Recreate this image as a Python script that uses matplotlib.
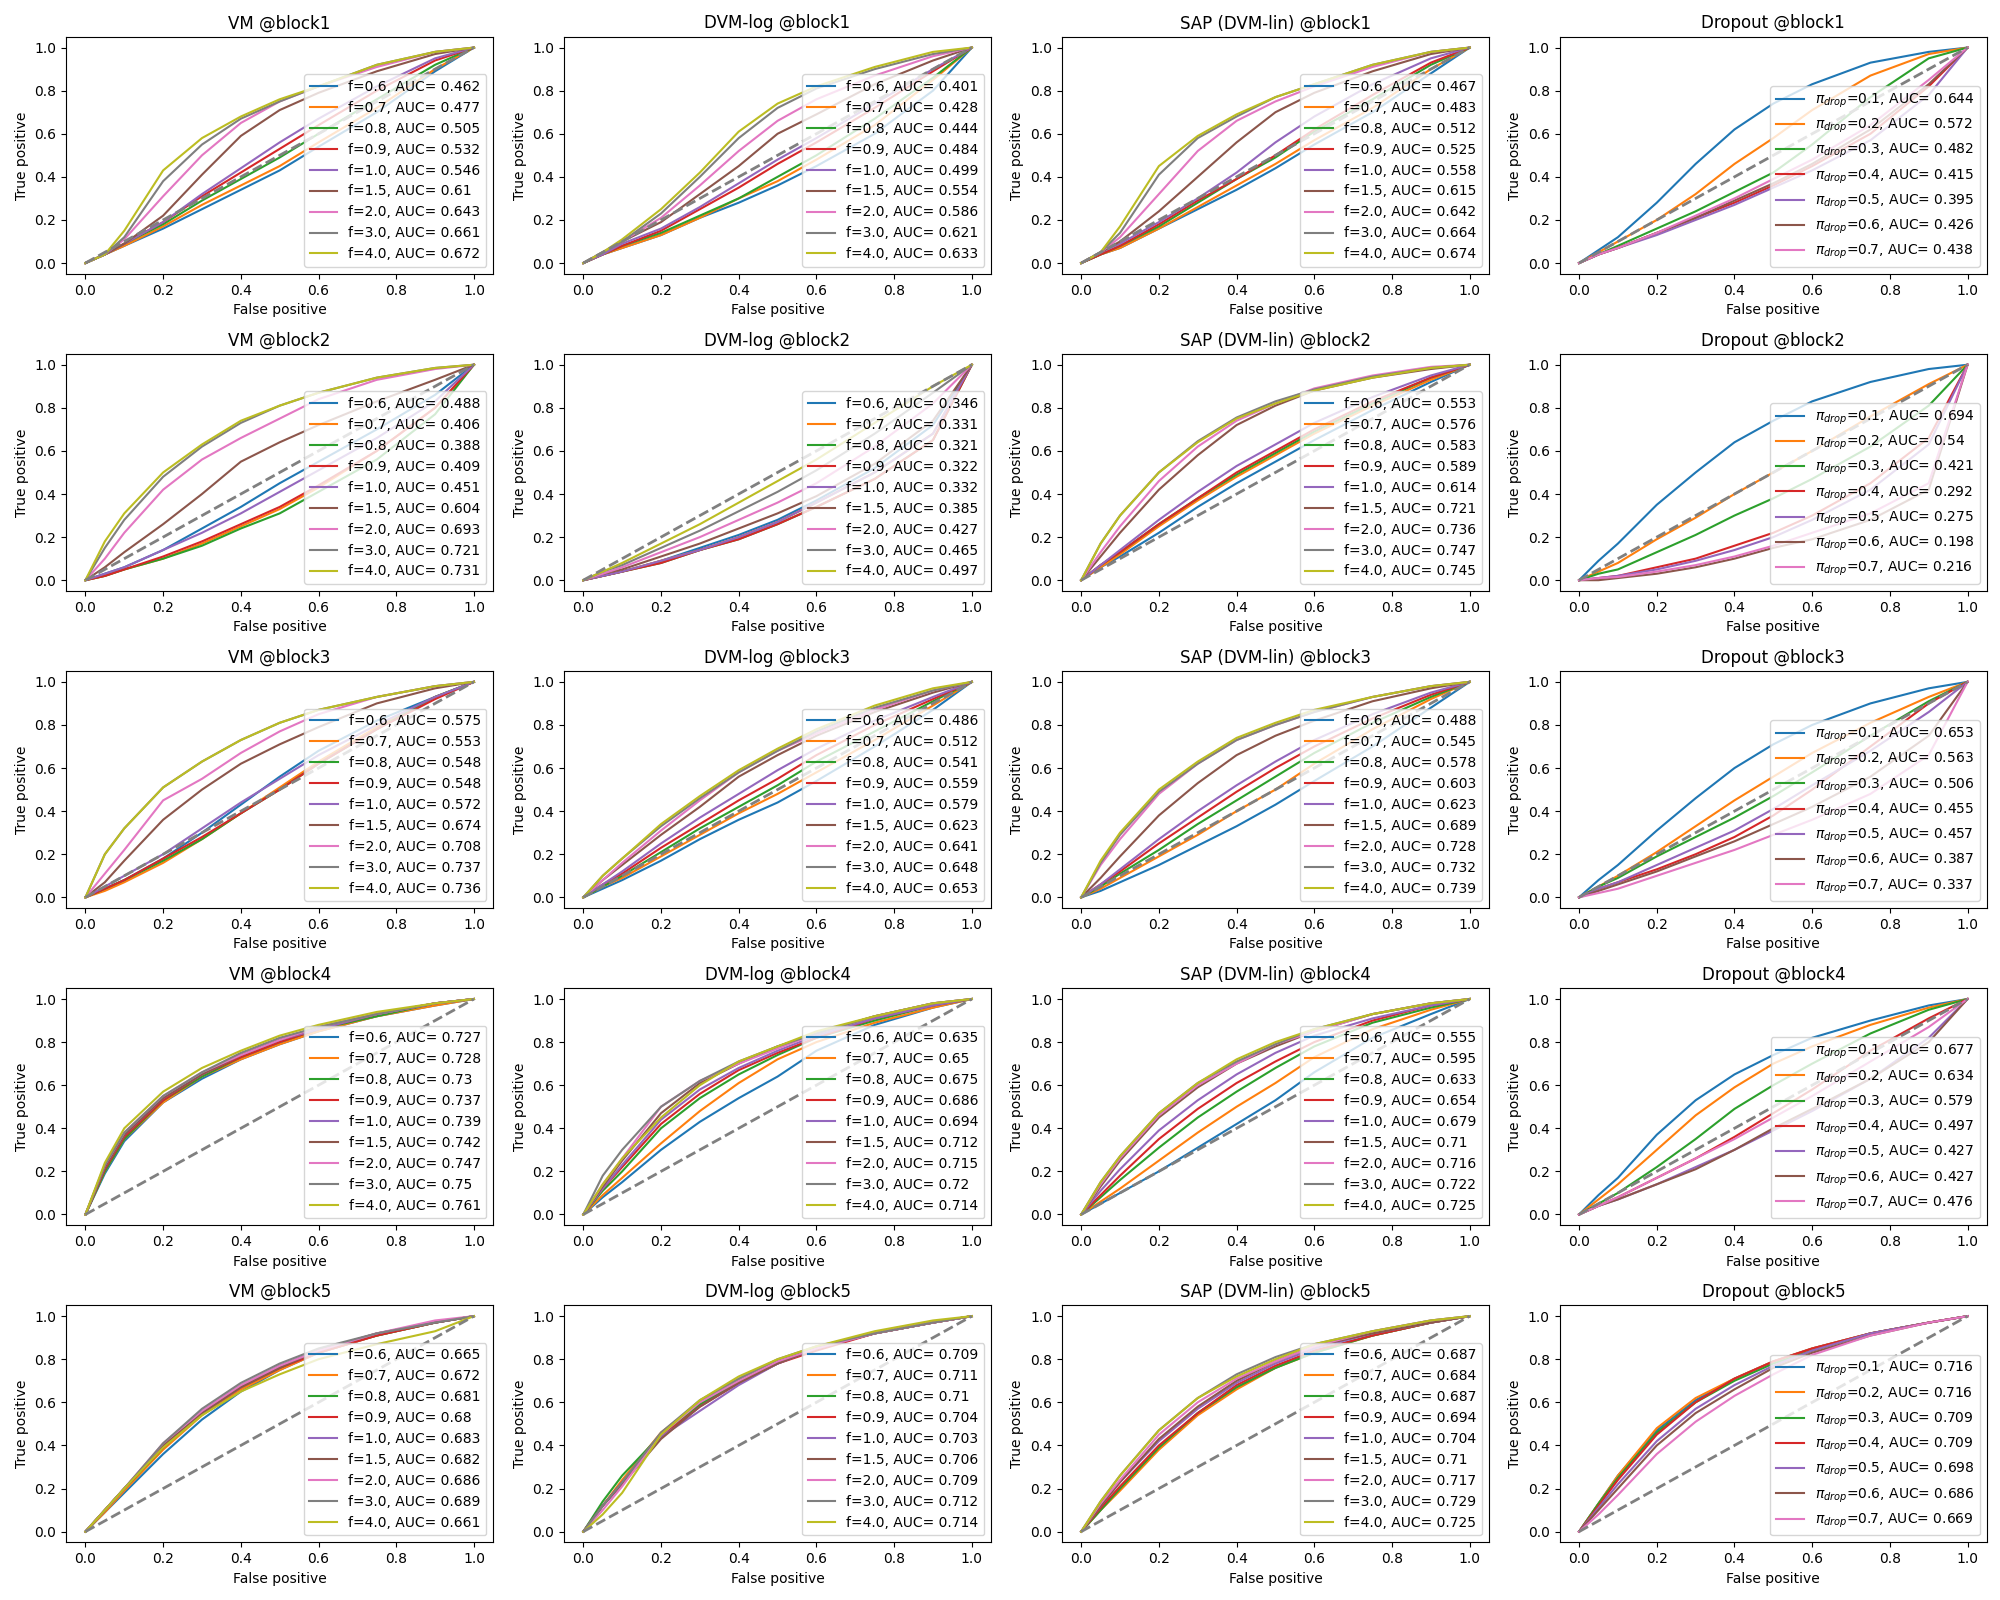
import matplotlib
matplotlib.use('Agg')
import matplotlib.pyplot as plt

# ROC curves, TPR at these FPR points
fpr_grid = [0.0, 0.05, 0.1, 0.2, 0.3, 0.4, 0.5, 0.6, 0.75, 0.9, 1.0]

methods = ['VM', 'DVM-log', 'SAP (DVM-lin)', 'Dropout']
blocks = ['block1', 'block2', 'block3', 'block4', 'block5']
f_values = ['0.6', '0.7', '0.8', '0.9', '1.0', '1.5', '2.0', '3.0', '4.0']
drop_values = ['0.1', '0.2', '0.3', '0.4', '0.5', '0.6', '0.7']

auc_vm = [
    [0.462, 0.477, 0.505, 0.532, 0.546, 0.61, 0.643, 0.661, 0.672],
    [0.488, 0.406, 0.388, 0.409, 0.451, 0.604, 0.693, 0.721, 0.731],
    [0.575, 0.553, 0.548, 0.548, 0.572, 0.674, 0.708, 0.737, 0.736],
    [0.727, 0.728, 0.73, 0.737, 0.739, 0.742, 0.747, 0.75, 0.761],
    [0.665, 0.672, 0.681, 0.68, 0.683, 0.682, 0.686, 0.689, 0.661],
]
auc_dvm = [
    [0.401, 0.428, 0.444, 0.484, 0.499, 0.554, 0.586, 0.621, 0.633],
    [0.346, 0.331, 0.321, 0.322, 0.332, 0.385, 0.427, 0.465, 0.497],
    [0.486, 0.512, 0.541, 0.559, 0.579, 0.623, 0.641, 0.648, 0.653],
    [0.635, 0.65, 0.675, 0.686, 0.694, 0.712, 0.715, 0.72, 0.714],
    [0.709, 0.711, 0.71, 0.704, 0.703, 0.706, 0.709, 0.712, 0.714],
]
auc_sap = [
    [0.467, 0.483, 0.512, 0.525, 0.558, 0.615, 0.642, 0.664, 0.674],
    [0.553, 0.576, 0.583, 0.589, 0.614, 0.721, 0.736, 0.747, 0.745],
    [0.488, 0.545, 0.578, 0.603, 0.623, 0.689, 0.728, 0.732, 0.739],
    [0.555, 0.595, 0.633, 0.654, 0.679, 0.71, 0.716, 0.722, 0.725],
    [0.687, 0.684, 0.687, 0.694, 0.704, 0.71, 0.717, 0.729, 0.725],
]
auc_drop = [
    [0.644, 0.572, 0.482, 0.415, 0.395, 0.426, 0.438],
    [0.694, 0.54, 0.421, 0.292, 0.275, 0.198, 0.216],
    [0.653, 0.563, 0.506, 0.455, 0.457, 0.387, 0.337],
    [0.677, 0.634, 0.579, 0.497, 0.427, 0.427, 0.476],
    [0.716, 0.716, 0.709, 0.709, 0.698, 0.686, 0.669],
]

# TPR values (between the fixed end points 0 and 1)
tpr_vm_b1 = [
    [0.04, 0.08, 0.16, 0.25, 0.34, 0.43, 0.54, 0.70, 0.89],
    [0.04, 0.08, 0.17, 0.27, 0.36, 0.45, 0.56, 0.72, 0.90],
    [0.04, 0.09, 0.18, 0.29, 0.39, 0.49, 0.60, 0.76, 0.92],
    [0.04, 0.09, 0.19, 0.31, 0.42, 0.53, 0.64, 0.80, 0.94],
    [0.04, 0.09, 0.19, 0.32, 0.44, 0.56, 0.67, 0.82, 0.95],
    [0.04, 0.09, 0.22, 0.41, 0.59, 0.71, 0.79, 0.89, 0.97],
    [0.04, 0.11, 0.31, 0.50, 0.65, 0.75, 0.82, 0.91, 0.98],
    [0.04, 0.12, 0.38, 0.55, 0.67, 0.75, 0.82, 0.92, 0.98],
    [0.04, 0.15, 0.43, 0.58, 0.68, 0.76, 0.82, 0.92, 0.98],
]
tpr_dvm_b1 = [
    [0.04, 0.07, 0.13, 0.21, 0.28, 0.36, 0.45, 0.60, 0.80],
    [0.04, 0.07, 0.13, 0.21, 0.30, 0.38, 0.48, 0.64, 0.85],
    [0.04, 0.08, 0.14, 0.22, 0.30, 0.40, 0.50, 0.67, 0.86],
    [0.04, 0.08, 0.15, 0.25, 0.35, 0.46, 0.56, 0.72, 0.89],
    [0.04, 0.09, 0.16, 0.26, 0.37, 0.48, 0.58, 0.74, 0.90],
    [0.05, 0.10, 0.19, 0.32, 0.45, 0.60, 0.69, 0.83, 0.94],
    [0.05, 0.10, 0.21, 0.36, 0.52, 0.66, 0.76, 0.87, 0.96],
    [0.05, 0.10, 0.23, 0.40, 0.58, 0.72, 0.81, 0.90, 0.97],
    [0.05, 0.11, 0.25, 0.42, 0.61, 0.74, 0.82, 0.91, 0.98],
]
tpr_sap_b1 = [
    [0.04, 0.07, 0.16, 0.25, 0.34, 0.44, 0.55, 0.70, 0.88],
    [0.04, 0.07, 0.16, 0.26, 0.36, 0.46, 0.57, 0.72, 0.90],
    [0.04, 0.08, 0.17, 0.28, 0.39, 0.49, 0.61, 0.76, 0.92],
    [0.04, 0.08, 0.18, 0.29, 0.39, 0.50, 0.62, 0.78, 0.93],
    [0.05, 0.09, 0.19, 0.30, 0.42, 0.56, 0.68, 0.83, 0.95],
    [0.05, 0.10, 0.24, 0.40, 0.56, 0.70, 0.79, 0.89, 0.97],
    [0.05, 0.12, 0.32, 0.52, 0.66, 0.75, 0.82, 0.91, 0.98],
    [0.05, 0.14, 0.41, 0.58, 0.68, 0.77, 0.83, 0.92, 0.98],
    [0.05, 0.17, 0.45, 0.59, 0.69, 0.77, 0.83, 0.92, 0.98],
]
tpr_drop_b1 = [
    [0.06, 0.12, 0.28, 0.46, 0.62, 0.74, 0.83, 0.93, 0.98],
    [0.05, 0.10, 0.20, 0.32, 0.46, 0.58, 0.71, 0.87, 0.97],
    [0.04, 0.08, 0.16, 0.24, 0.33, 0.42, 0.55, 0.77, 0.95],
    [0.04, 0.07, 0.14, 0.21, 0.28, 0.36, 0.45, 0.60, 0.82],
    [0.04, 0.07, 0.13, 0.20, 0.27, 0.35, 0.43, 0.57, 0.78],
    [0.04, 0.07, 0.14, 0.21, 0.29, 0.37, 0.46, 0.62, 0.83],
    [0.04, 0.07, 0.14, 0.22, 0.30, 0.39, 0.48, 0.64, 0.85],
]

tpr_vm_b2 = [
    [0.03, 0.06, 0.14, 0.24, 0.34, 0.45, 0.55, 0.70, 0.86],
    [0.02, 0.05, 0.10, 0.17, 0.25, 0.33, 0.43, 0.60, 0.80],
    [0.02, 0.05, 0.10, 0.16, 0.24, 0.31, 0.41, 0.56, 0.77],
    [0.02, 0.05, 0.11, 0.18, 0.26, 0.34, 0.44, 0.60, 0.80],
    [0.03, 0.06, 0.14, 0.22, 0.31, 0.41, 0.51, 0.66, 0.83],
    [0.06, 0.13, 0.26, 0.40, 0.55, 0.64, 0.72, 0.83, 0.93],
    [0.10, 0.22, 0.42, 0.56, 0.66, 0.75, 0.84, 0.93, 0.98],
    [0.15, 0.28, 0.48, 0.62, 0.73, 0.81, 0.87, 0.94, 0.985],
    [0.18, 0.31, 0.50, 0.63, 0.74, 0.81, 0.87, 0.94, 0.985],
]
tpr_dvm_b2 = [
    [0.02, 0.04, 0.09, 0.15, 0.21, 0.28, 0.37, 0.52, 0.72],
    [0.02, 0.04, 0.09, 0.14, 0.20, 0.27, 0.36, 0.50, 0.68],
    [0.02, 0.04, 0.08, 0.14, 0.19, 0.26, 0.34, 0.47, 0.65],
    [0.02, 0.04, 0.08, 0.14, 0.19, 0.26, 0.34, 0.47, 0.65],
    [0.02, 0.04, 0.09, 0.14, 0.20, 0.27, 0.36, 0.50, 0.68],
    [0.03, 0.05, 0.11, 0.17, 0.24, 0.31, 0.39, 0.54, 0.74],
    [0.03, 0.06, 0.13, 0.20, 0.28, 0.36, 0.45, 0.62, 0.82],
    [0.04, 0.07, 0.15, 0.23, 0.32, 0.41, 0.51, 0.68, 0.87],
    [0.04, 0.08, 0.17, 0.26, 0.36, 0.46, 0.56, 0.73, 0.90],
]
tpr_sap_b2 = [
    [0.06, 0.11, 0.22, 0.34, 0.45, 0.55, 0.65, 0.79, 0.92],
    [0.06, 0.12, 0.25, 0.37, 0.48, 0.58, 0.68, 0.81, 0.93],
    [0.07, 0.13, 0.26, 0.38, 0.49, 0.59, 0.69, 0.82, 0.94],
    [0.07, 0.13, 0.26, 0.38, 0.50, 0.60, 0.70, 0.83, 0.94],
    [0.07, 0.14, 0.28, 0.41, 0.53, 0.63, 0.73, 0.85, 0.95],
    [0.11, 0.22, 0.42, 0.58, 0.72, 0.81, 0.88, 0.94, 0.98],
    [0.13, 0.25, 0.46, 0.62, 0.74, 0.82, 0.89, 0.95, 0.99],
    [0.17, 0.30, 0.50, 0.645, 0.755, 0.83, 0.885, 0.945, 0.985],
    [0.17, 0.30, 0.50, 0.64, 0.75, 0.82, 0.88, 0.94, 0.985],
]
tpr_drop_b2 = [
    [0.09, 0.17, 0.35, 0.50, 0.64, 0.74, 0.83, 0.92, 0.98],
    [0.04, 0.08, 0.19, 0.29, 0.40, 0.50, 0.60, 0.76, 0.91],
    [0.03, 0.05, 0.13, 0.21, 0.30, 0.38, 0.47, 0.62, 0.81],
    [0.01, 0.02, 0.06, 0.10, 0.16, 0.22, 0.30, 0.45, 0.66],
    [0.01, 0.02, 0.05, 0.09, 0.14, 0.20, 0.28, 0.42, 0.63],
    [0.00, 0.01, 0.03, 0.06, 0.10, 0.15, 0.19, 0.28, 0.42],
    [0.01, 0.015, 0.04, 0.07, 0.11, 0.16, 0.22, 0.31, 0.45],
]

tpr_vm_b3 = [
    [0.04, 0.08, 0.18, 0.30, 0.43, 0.56, 0.68, 0.82, 0.93],
    [0.03, 0.07, 0.16, 0.27, 0.39, 0.51, 0.63, 0.79, 0.93],
    [0.04, 0.08, 0.17, 0.27, 0.39, 0.50, 0.62, 0.78, 0.93],
    [0.04, 0.08, 0.18, 0.28, 0.39, 0.50, 0.62, 0.78, 0.92],
    [0.05, 0.10, 0.20, 0.32, 0.44, 0.55, 0.66, 0.80, 0.93],
    [0.07, 0.17, 0.36, 0.50, 0.62, 0.71, 0.79, 0.90, 0.97],
    [0.11, 0.22, 0.45, 0.55, 0.67, 0.77, 0.85, 0.93, 0.98],
    [0.20, 0.32, 0.51, 0.63, 0.73, 0.81, 0.87, 0.93, 0.98],
    [0.20, 0.32, 0.51, 0.63, 0.73, 0.81, 0.87, 0.93, 0.98],
]
tpr_dvm_b3 = [
    [0.04, 0.08, 0.17, 0.27, 0.36, 0.44, 0.54, 0.70, 0.87],
    [0.05, 0.09, 0.19, 0.29, 0.39, 0.48, 0.58, 0.73, 0.89],
    [0.05, 0.10, 0.21, 0.32, 0.42, 0.52, 0.63, 0.77, 0.91],
    [0.06, 0.11, 0.23, 0.34, 0.45, 0.55, 0.66, 0.80, 0.92],
    [0.06, 0.12, 0.25, 0.37, 0.48, 0.59, 0.69, 0.82, 0.93],
    [0.08, 0.15, 0.29, 0.42, 0.56, 0.66, 0.75, 0.86, 0.95],
    [0.08, 0.16, 0.31, 0.45, 0.58, 0.68, 0.76, 0.87, 0.96],
    [0.10, 0.18, 0.33, 0.46, 0.58, 0.68, 0.77, 0.88, 0.96],
    [0.10, 0.18, 0.34, 0.47, 0.59, 0.69, 0.78, 0.89, 0.97],
]
tpr_sap_b3 = [
    [0.03, 0.07, 0.15, 0.24, 0.33, 0.43, 0.54, 0.70, 0.88],
    [0.04, 0.09, 0.19, 0.29, 0.40, 0.50, 0.62, 0.78, 0.92],
    [0.05, 0.11, 0.22, 0.34, 0.45, 0.56, 0.67, 0.81, 0.93],
    [0.06, 0.12, 0.25, 0.37, 0.49, 0.60, 0.70, 0.83, 0.94],
    [0.06, 0.13, 0.27, 0.40, 0.52, 0.63, 0.73, 0.85, 0.95],
    [0.09, 0.19, 0.38, 0.53, 0.66, 0.75, 0.82, 0.91, 0.97],
    [0.15, 0.27, 0.48, 0.62, 0.73, 0.80, 0.86, 0.93, 0.98],
    [0.16, 0.29, 0.49, 0.62, 0.73, 0.80, 0.86, 0.93, 0.98],
    [0.17, 0.30, 0.50, 0.63, 0.74, 0.81, 0.87, 0.93, 0.98],
]
tpr_drop_b3 = [
    [0.08, 0.15, 0.31, 0.46, 0.60, 0.71, 0.80, 0.90, 0.97],
    [0.05, 0.10, 0.21, 0.33, 0.45, 0.56, 0.67, 0.81, 0.93],
    [0.05, 0.09, 0.19, 0.28, 0.37, 0.47, 0.58, 0.75, 0.91],
    [0.04, 0.07, 0.13, 0.20, 0.28, 0.38, 0.50, 0.70, 0.90],
    [0.04, 0.07, 0.15, 0.23, 0.31, 0.41, 0.52, 0.68, 0.86],
    [0.03, 0.06, 0.12, 0.19, 0.26, 0.34, 0.42, 0.56, 0.75],
    [0.02, 0.04, 0.10, 0.16, 0.22, 0.29, 0.36, 0.48, 0.66],
]

tpr_vm_b4 = [
    [0.19, 0.34, 0.52, 0.63, 0.72, 0.79, 0.85, 0.92, 0.97],
    [0.20, 0.35, 0.52, 0.64, 0.72, 0.79, 0.85, 0.92, 0.97],
    [0.20, 0.35, 0.53, 0.64, 0.73, 0.80, 0.86, 0.92, 0.98],
    [0.21, 0.36, 0.53, 0.65, 0.73, 0.80, 0.86, 0.93, 0.98],
    [0.22, 0.37, 0.54, 0.65, 0.74, 0.81, 0.86, 0.93, 0.98],
    [0.22, 0.37, 0.54, 0.65, 0.74, 0.81, 0.87, 0.93, 0.98],
    [0.23, 0.38, 0.55, 0.66, 0.74, 0.81, 0.87, 0.93, 0.98],
    [0.23, 0.38, 0.55, 0.66, 0.75, 0.82, 0.87, 0.93, 0.98],
    [0.24, 0.40, 0.57, 0.68, 0.76, 0.83, 0.88, 0.94, 0.98],
]
tpr_dvm_b4 = [
    [0.08, 0.15, 0.30, 0.43, 0.54, 0.64, 0.76, 0.88, 0.96],
    [0.09, 0.17, 0.33, 0.48, 0.61, 0.72, 0.80, 0.89, 0.96],
    [0.11, 0.20, 0.40, 0.54, 0.65, 0.74, 0.82, 0.90, 0.97],
    [0.12, 0.22, 0.42, 0.56, 0.67, 0.75, 0.82, 0.91, 0.97],
    [0.12, 0.23, 0.44, 0.58, 0.68, 0.76, 0.83, 0.91, 0.97],
    [0.13, 0.25, 0.47, 0.61, 0.70, 0.78, 0.84, 0.92, 0.98],
    [0.14, 0.26, 0.50, 0.62, 0.70, 0.77, 0.84, 0.92, 0.98],
    [0.18, 0.30, 0.50, 0.62, 0.71, 0.78, 0.84, 0.92, 0.98],
    [0.14, 0.26, 0.45, 0.60, 0.71, 0.78, 0.85, 0.92, 0.98],
]
tpr_sap_b4 = [
    [0.05, 0.10, 0.20, 0.31, 0.42, 0.53, 0.66, 0.82, 0.93],
    [0.06, 0.12, 0.25, 0.38, 0.50, 0.61, 0.73, 0.86, 0.95],
    [0.08, 0.16, 0.31, 0.45, 0.57, 0.68, 0.78, 0.89, 0.96],
    [0.09, 0.18, 0.35, 0.49, 0.61, 0.71, 0.80, 0.90, 0.97],
    [0.11, 0.21, 0.39, 0.53, 0.65, 0.75, 0.83, 0.91, 0.97],
    [0.13, 0.25, 0.45, 0.59, 0.70, 0.78, 0.85, 0.93, 0.98],
    [0.14, 0.26, 0.46, 0.60, 0.70, 0.79, 0.85, 0.93, 0.98],
    [0.15, 0.27, 0.47, 0.61, 0.71, 0.79, 0.86, 0.93, 0.98],
    [0.15, 0.27, 0.47, 0.61, 0.72, 0.80, 0.86, 0.93, 0.98],
]
tpr_drop_b4 = [
    [0.09, 0.17, 0.37, 0.53, 0.65, 0.74, 0.82, 0.90, 0.97],
    [0.07, 0.14, 0.30, 0.46, 0.59, 0.70, 0.78, 0.88, 0.96],
    [0.05, 0.10, 0.22, 0.35, 0.49, 0.60, 0.70, 0.84, 0.95],
    [0.04, 0.08, 0.17, 0.26, 0.36, 0.47, 0.58, 0.76, 0.91],
    [0.04, 0.07, 0.14, 0.22, 0.30, 0.39, 0.48, 0.63, 0.82],
    [0.04, 0.07, 0.14, 0.21, 0.30, 0.40, 0.49, 0.63, 0.80],
    [0.04, 0.08, 0.17, 0.26, 0.35, 0.45, 0.55, 0.71, 0.87],
]

tpr_vm_b5 = [
    [0.09, 0.18, 0.36, 0.52, 0.65, 0.75, 0.83, 0.91, 0.97],
    [0.09, 0.19, 0.38, 0.54, 0.66, 0.75, 0.83, 0.91, 0.97],
    [0.10, 0.20, 0.39, 0.55, 0.67, 0.76, 0.84, 0.91, 0.97],
    [0.10, 0.20, 0.39, 0.55, 0.67, 0.76, 0.83, 0.91, 0.97],
    [0.10, 0.20, 0.40, 0.55, 0.67, 0.77, 0.84, 0.92, 0.97],
    [0.10, 0.20, 0.40, 0.55, 0.67, 0.76, 0.84, 0.92, 0.97],
    [0.10, 0.20, 0.41, 0.56, 0.68, 0.77, 0.84, 0.92, 0.98],
    [0.10, 0.20, 0.41, 0.57, 0.69, 0.78, 0.85, 0.92, 0.97],
    [0.10, 0.20, 0.39, 0.54, 0.65, 0.73, 0.80, 0.87, 0.93],
]
tpr_dvm_b5 = [
    [0.12, 0.23, 0.45, 0.59, 0.69, 0.78, 0.85, 0.92, 0.97],
    [0.12, 0.24, 0.46, 0.60, 0.70, 0.79, 0.85, 0.92, 0.97],
    [0.14, 0.26, 0.45, 0.59, 0.70, 0.79, 0.85, 0.92, 0.97],
    [0.12, 0.23, 0.44, 0.58, 0.69, 0.78, 0.84, 0.92, 0.97],
    [0.12, 0.22, 0.44, 0.56, 0.68, 0.78, 0.85, 0.92, 0.97],
    [0.12, 0.22, 0.43, 0.58, 0.69, 0.78, 0.85, 0.92, 0.97],
    [0.10, 0.21, 0.45, 0.60, 0.70, 0.79, 0.85, 0.92, 0.97],
    [0.12, 0.23, 0.46, 0.61, 0.71, 0.80, 0.86, 0.92, 0.97],
    [0.08, 0.18, 0.45, 0.61, 0.72, 0.80, 0.86, 0.93, 0.98],
]
tpr_sap_b5 = [
    [0.10, 0.20, 0.39, 0.55, 0.67, 0.76, 0.84, 0.91, 0.97],
    [0.10, 0.19, 0.38, 0.54, 0.66, 0.76, 0.83, 0.91, 0.97],
    [0.10, 0.20, 0.39, 0.55, 0.67, 0.76, 0.83, 0.91, 0.97],
    [0.11, 0.21, 0.40, 0.55, 0.68, 0.77, 0.84, 0.91, 0.97],
    [0.12, 0.23, 0.42, 0.57, 0.69, 0.78, 0.85, 0.92, 0.97],
    [0.12, 0.23, 0.43, 0.58, 0.70, 0.79, 0.86, 0.92, 0.97],
    [0.13, 0.24, 0.45, 0.60, 0.71, 0.79, 0.86, 0.93, 0.98],
    [0.14, 0.26, 0.47, 0.62, 0.73, 0.81, 0.87, 0.93, 0.98],
    [0.14, 0.26, 0.47, 0.62, 0.72, 0.80, 0.87, 0.93, 0.98],
]
tpr_drop_b5 = [
    [0.13, 0.26, 0.47, 0.61, 0.71, 0.79, 0.85, 0.92, 0.97],
    [0.13, 0.26, 0.48, 0.62, 0.71, 0.79, 0.85, 0.92, 0.97],
    [0.13, 0.25, 0.46, 0.60, 0.70, 0.78, 0.84, 0.92, 0.97],
    [0.12, 0.24, 0.45, 0.60, 0.71, 0.79, 0.85, 0.92, 0.97],
    [0.11, 0.22, 0.42, 0.57, 0.68, 0.77, 0.84, 0.92, 0.97],
    [0.10, 0.20, 0.40, 0.55, 0.66, 0.76, 0.83, 0.91, 0.97],
    [0.08, 0.17, 0.36, 0.51, 0.63, 0.73, 0.82, 0.91, 0.97],
]

tpr_all = {
    'VM': [tpr_vm_b1, tpr_vm_b2, tpr_vm_b3, tpr_vm_b4, tpr_vm_b5],
    'DVM-log': [tpr_dvm_b1, tpr_dvm_b2, tpr_dvm_b3, tpr_dvm_b4, tpr_dvm_b5],
    'SAP (DVM-lin)': [tpr_sap_b1, tpr_sap_b2, tpr_sap_b3, tpr_sap_b4, tpr_sap_b5],
    'Dropout': [tpr_drop_b1, tpr_drop_b2, tpr_drop_b3, tpr_drop_b4, tpr_drop_b5],
}
auc_all = {'VM': auc_vm, 'DVM-log': auc_dvm, 'SAP (DVM-lin)': auc_sap, 'Dropout': auc_drop}


def make_label(method, i, auc):
    if method == 'Dropout':
        return r'$\pi_{drop}$=' + drop_values[i] + ', AUC= ' + str(auc)
    return 'f=' + f_values[i] + ', AUC= ' + str(auc)


fig, axes = plt.subplots(5, 4, figsize=(20, 16), dpi=100)

for row, block in enumerate(blocks):
    for col, method in enumerate(methods):
        ax = axes[row, col]
        curves = tpr_all[method][row]
        aucs = auc_all[method][row]
        for i, tpr in enumerate(curves):
            ax.plot(fpr_grid, [0.0] + tpr + [1.0], label=make_label(method, i, aucs[i]))
        ax.plot([0, 1], [0, 1], '--', color='gray', lw=2)
        ax.set_title(method + ' @' + block, fontsize=12)
        ax.set_xlabel('False positive')
        ax.set_ylabel('True positive')
        ax.legend(loc='lower right')

plt.subplots_adjust(left=0.033, right=0.9935, top=0.977, bottom=0.036,
                    wspace=0.165, hspace=0.338)
plt.savefig('out.png')
